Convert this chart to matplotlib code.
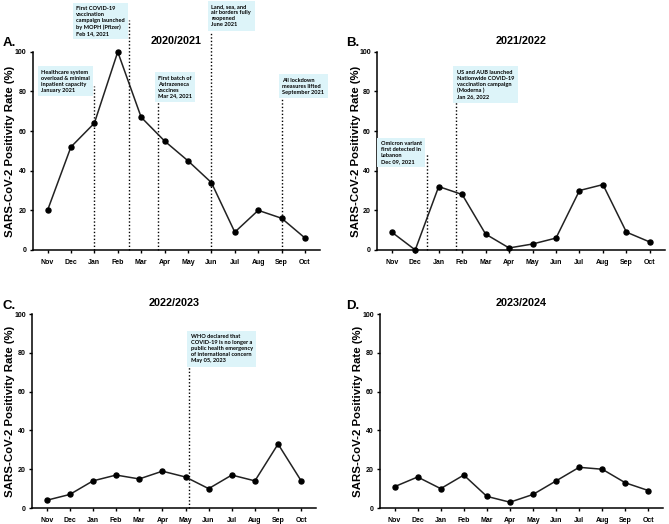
import matplotlib.pyplot as plt

plt.rcParams['font.family'] = ['Liberation Sans', 'DejaVu Sans']

MONTHS = ['Nov', 'Dec', 'Jan', 'Feb', 'Mar', 'Apr', 'May', 'Jun', 'Jul', 'Aug', 'Sep', 'Oct']

rate_2020 = [20, 52, 64, 100, 67, 55, 45, 34, 9, 20, 16, 6]
rate_2021 = [9, 0, 32, 28, 8, 1, 3, 6, 30, 33, 9, 4]
rate_2022 = [4, 7, 14, 17, 15, 19, 16, 10, 17, 14, 33, 14]
rate_2023 = [11, 16, 10, 17, 6, 3, 7, 14, 21, 20, 13, 9]

# events: (x position in month index, line top, text left, text top, text)
events_2020 = [
    (2.0, 83, -0.28, 91, "Healthcare system\noverload & minimal\ninpatient capacity\nJanuary 2021"),
    (3.48, 116, 1.23, 123, "First COVID-19\nvaccination\ncampaign launched\nby MOPH (Pfizer)\nFeb 14, 2021"),
    (4.72, 77, 4.72, 88, "First batch of\nAstrazeneca\nvaccines\nMar 24, 2021"),
    (7.0, 110, 7.0, 124, "Land, sea, and\nair borders fully\nreopened\nJune 2021"),
    (10.0, 77, 10.03, 87, "All lockdown\nmeasures lifted\nSeptember 2021"),
]
events_2021 = [
    (1.49, 49, -0.47, 55, "Omicron variant\nfirst detected in\nLebanon\nDec 09, 2021"),
    (2.73, 83, 2.77, 91, "US and AUB launched\nNationwide COVID-19\nvaccination campaign\n(Moderna )\nJan 26, 2022"),
]
events_2022 = [
    (6.13, 91, 6.22, 89.7, "WHO declared that\nCOVID-19 is no longer a\npublic health emergency\nof international concern\nMay 05, 2023"),
]

BOX = '#ddf4f9'


def draw_panel(fig, rect, values, title, letter, letter_pos, events, label_x):
    ax = fig.add_axes(rect)
    x = list(range(len(MONTHS)))
    for ev_x, top, tx, ty, txt in events:
        ax.plot([ev_x, ev_x], [0, top], color='black', linestyle=(0, (1, 1.5)),
                linewidth=1.0, clip_on=False, zorder=2)
        ax.text(tx, ty, txt, ha='left', va='top', fontsize=4.1, fontweight='bold',
                family=['Lato', 'DejaVu Sans'], linespacing=1.25, clip_on=False, zorder=3,
                bbox=dict(boxstyle='square,pad=0.6', facecolor=BOX, edgecolor='none'))
    ax.plot(x, values, color='#222222', linewidth=1.1, marker='o', markersize=3.6,
            markerfacecolor='black', markeredgecolor='black', zorder=4, clip_on=False)
    ax.set_xlim(-0.63, 11.63)
    ax.set_ylim(0, 100)
    ax.set_xticks(x)
    ax.set_xticklabels(MONTHS)
    ax.set_yticks([0, 20, 40, 60, 80, 100])
    for s in ['top', 'right']:
        ax.spines[s].set_visible(False)
    for s in ['left', 'bottom']:
        ax.spines[s].set_linewidth(1.1)
    ax.tick_params(axis='both', labelsize=5, width=1, length=2.5, pad=2)
    for lab in ax.get_xticklabels() + ax.get_yticklabels():
        lab.set_fontweight('bold')
    ax.tick_params(axis='x', pad=4)
    ax.set_ylabel('SARS-CoV-2 Positivity Rate (%)', fontsize=8.2, fontweight='bold')
    ax.yaxis.set_label_coords(label_x, 0.5)
    ax.set_title(title, fontsize=7.8, fontweight='bold', pad=6)
    fig.text(letter_pos[0], letter_pos[1], letter, fontsize=9.5, fontweight='bold',
             ha='left', va='center')
    return ax


fig = plt.figure(figsize=(6.69, 5.24), dpi=100)

draw_panel(fig, [0.049, 0.523, 0.429, 0.378], rate_2020, '2020/2021', 'A.',
           (0.004, 1 - 43 / 524), events_2020, -0.062)
draw_panel(fig, [0.5635, 0.523, 0.43, 0.378], rate_2021, '2021/2022', 'B.',
           (0.518, 1 - 43 / 524), events_2021, -0.056)
draw_panel(fig, [0.048, 0.0305, 0.424, 0.370], rate_2022, '2022/2023', 'C.',
           (0.004, 1 - 306 / 524), events_2022, -0.06)
draw_panel(fig, [0.568, 0.0305, 0.423, 0.370], rate_2023, '2023/2024', 'D.',
           (0.518, 1 - 306 / 524), [], -0.06)

fig.savefig('out.png', dpi=100, facecolor='white')
